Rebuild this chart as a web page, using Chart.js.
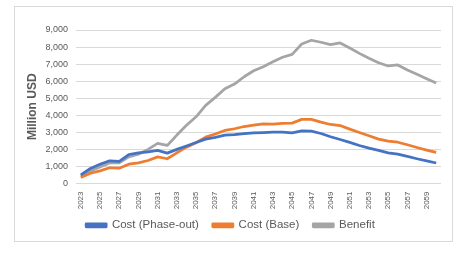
<!DOCTYPE html>
<html>
<head>
<meta charset="utf-8">
<script src="https://cdn.jsdelivr.net/npm/chart.js@4"></script>
<style>
  body { margin: 0; background: #fff; }
  #frame { position: absolute; left: 14px; top: 6px; width: 437px; height: 234px; border: 1px solid #d9d9d9; }
  #wrap { position: absolute; left: 0; top: 0; width: 473px; height: 253px; }
</style>
</head>
<body>
<div id="frame"></div>
<div id="wrap"><canvas id="chart" width="473" height="253"></canvas></div>
<script>
var years = [];
for (var y = 2023; y <= 2060; y++) years.push(String(y));

// Million USD
var costPhaseOut = [500, 880, 1130, 1330, 1300, 1700, 1800, 1850, 1940, 1780,
    2000, 2200, 2400, 2600, 2700, 2840, 2860, 2920, 2970, 2990,
    3010, 3010, 2970, 3090, 3070, 2930, 2740, 2580, 2410, 2230,
    2070, 1940, 1800, 1720, 1590, 1450, 1330, 1200];
var costBase = [350, 600, 740, 920, 900, 1130, 1210, 1350, 1560, 1450,
    1800, 2130, 2390, 2720, 2900, 3110, 3210, 3340, 3420, 3500,
    3480, 3520, 3540, 3760, 3760, 3600, 3460, 3400, 3190, 2990,
    2800, 2600, 2480, 2420, 2270, 2110, 1960, 1820];
var benefit = [430, 740, 970, 1210, 1210, 1560, 1720, 2000, 2350, 2230,
    2840, 3420, 3910, 4580, 5050, 5560, 5830, 6260, 6610, 6850,
    7140, 7400, 7570, 8180, 8400, 8280, 8140, 8240, 7940, 7630,
    7340, 7080, 6890, 6950, 6650, 6400, 6140, 5890];

var seriesNames = ['Cost (Phase-out)', 'Cost (Base)', 'Benefit'];
var seriesColors = ['#4472C4', '#ED7D31', '#A5A5A5'];
var yTicks = { min: 0, max: 9000, step: 1000 };

var font = "'Liberation Sans', Arial, sans-serif";
var textColor = '#595959';

function line(i, data) {
    return {
        label: seriesNames[i],
        data: data,
        borderColor: seriesColors[i],
        backgroundColor: seriesColors[i],
        borderWidth: 2.75,
        pointRadius: 0,
        tension: 0,
        borderJoinStyle: 'round'
    };
}

// pull the legend up a bit so it sits closer to the year labels
var legendLift = {
    id: 'legendLift',
    afterLayout: function(chart) {
        chart.legend.top -= 6;
        chart.legend.bottom -= 6;
    }
};

new Chart(document.getElementById('chart'), {
    type: 'line',
    data: {
        labels: years,
        datasets: [line(0, costPhaseOut), line(1, costBase), line(2, benefit)]
    },
    options: {
        responsive: false,
        animation: false,
        layout: { padding: { left: 20, right: 32, top: 30, bottom: 6 } },
        scales: {
            x: {
                offset: true,
                grid: { display: false, drawTicks: false },
                border: { display: false },
                ticks: {
                    autoSkip: false,
                    minRotation: 90,
                    maxRotation: 90,
                    padding: 8,
                    color: textColor,
                    font: { family: font, size: 8 },
                    callback: function(v, i) { return i % 2 === 0 ? years[i] : ''; }
                },
                afterFit: function(s) { s.height = 28; }
            },
            y: {
                min: yTicks.min,
                max: yTicks.max,
                grid: { color: '#d9d9d9', drawTicks: false },
                border: { display: false },
                ticks: {
                    stepSize: yTicks.step,
                    padding: 8,
                    color: textColor,
                    font: { family: font, size: 9 },
                    callback: function(v) { return v.toLocaleString('en-US'); }
                },
                title: {
                    display: true,
                    text: 'Million USD',
                    color: textColor,
                    padding: { top: 5, bottom: 0 },
                    font: { family: font, size: 12, weight: 'bold' }
                },
                afterFit: function(s) { s.width = 56; }
            }
        },
        plugins: {
            legend: {
                position: 'bottom',
                labels: {
                    boxWidth: 20,
                    boxHeight: 3,
                    padding: 14,
                    color: textColor,
                    font: { family: font, size: 11.5 }
                }
            },
            tooltip: { enabled: false }
        }
    },
    plugins: [legendLift]
});
</script>
</body>
</html>
